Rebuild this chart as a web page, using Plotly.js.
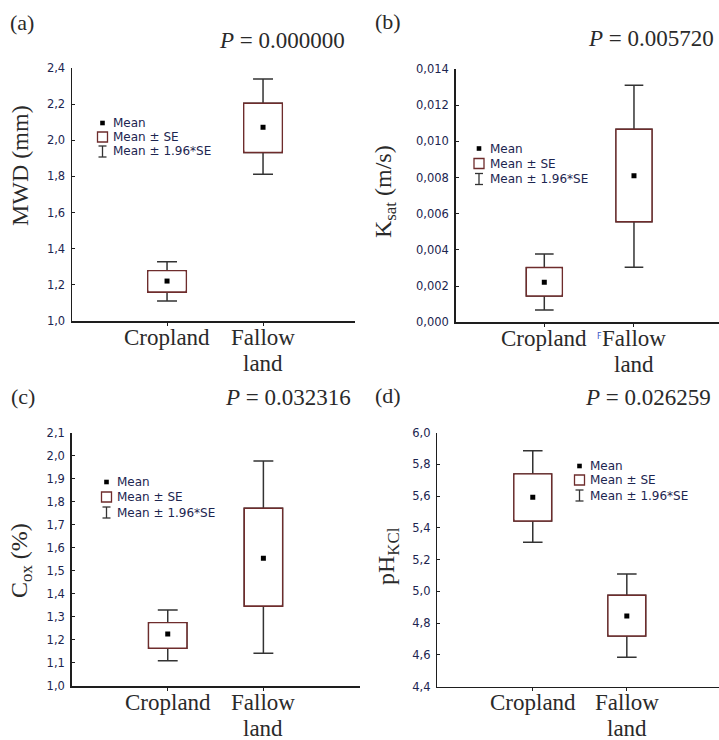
<!DOCTYPE html>
<html>
<head>
<meta charset="utf-8">
<script src="https://cdn.plot.ly/plotly-3.0.1.min.js"></script>
<style>html,body{margin:0;padding:0;background:#fff;}#chart{width:719px;height:740px;}</style>
</head>
<body>
<div id="chart"></div>
<script>
// ---- data ----
const categories = ['Cropland', 'Fallow land'];
const tickText = ['Cropland', 'Fallow<br>land'];
const legendLabels = ['Mean', 'Mean ± SE', 'Mean ± 1.96*SE'];

const mwdMean   = [1.221, 2.072];
const mwdSeLow  = [1.160, 1.933];
const mwdSeHigh = [1.278, 2.205];
const mwdCiLow  = [1.111, 1.812];
const mwdCiHigh = [1.328, 2.339];

const ksatMean   = [0.00221, 0.00810];
const ksatSeLow  = [0.00145, 0.00556];
const ksatSeHigh = [0.00302, 0.01067];
const ksatCiLow  = [0.00068, 0.00304];
const ksatCiHigh = [0.00378, 0.01310];

const coxMean   = [1.226, 1.555];
const coxSeLow  = [1.164, 1.347];
const coxSeHigh = [1.275, 1.772];
const coxCiLow  = [1.110, 1.142];
const coxCiHigh = [1.330, 1.977];

const phMean   = [5.593, 4.845];
const phSeLow  = [5.444, 4.719];
const phSeHigh = [5.740, 4.976];
const phCiLow  = [5.310, 4.585];
const phCiHigh = [5.887, 5.110];

const pValues = ['0.000000', '0.005720', '0.032316', '0.026259'];
const panelLetters = ['(a)', '(b)', '(c)', '(d)'];
const yTitles = ['MWD (mm)', 'K<sub>sat</sub> (m/s)', 'C<sub>ox</sub> (%)', 'pH<sub>KCl</sub>'];

// ---- helpers ----
const W = 719, H = 740;
const px = x => x / W;
const py = y => 1 - y / H;
const SERIF = 'Liberation Serif, Times New Roman, serif';
const SANS = 'DejaVu Sans, Verdana, sans-serif';
const BROWN = '#6e2c2c';
const WHISK = '#333333';
const AXC = '#1e1e1e';
const TICKC = '#1c2550';
const TXT = '#2a2a2a';
const BOXW = 0.4;          // box width in category units
const BROWN_W = 1.6;       // box outline width (px)
const COVER_OFF = 1.4;     // px inset of the white cover that hides Plotly's median line

const panels = [
  {mean: mwdMean, seL: mwdSeLow, seH: mwdSeHigh, ciL: mwdCiLow, ciH: mwdCiHigh,
   xd: [72, 355], yd: [68, 321], yr: [1.0, 2.4], dt: 0.2, fmt: '.1f', xr: [-0.99, 1.958],
   title: [20, 166], p: [347, 40], letter: [22, 22], leg: {x: 102.5, y: [123, 137, 151.5]}},
  {mean: ksatMean, seL: ksatSeLow, seH: ksatSeHigh, ciL: ksatCiLow, ciH: ksatCiHigh,
   xd: [455.7, 719], yd: [69, 322.3], yr: [0, 0.014], dt: 0.002, fmt: '.3f', xr: [-0.988, 1.948],
   title: [385, 192], p: [716, 38], letter: [388, 21], leg: {x: 479, y: [148.5, 163.5, 179]}},
  {mean: coxMean, seL: coxSeLow, seH: coxSeHigh, ciL: coxCiLow, ciH: coxCiHigh,
   xd: [71.7, 360], yd: [432.7, 686], yr: [1.0, 2.1], dt: 0.1, fmt: '.1f', xr: [-1.004, 2.01],
   title: [21, 561], p: [353, 398], letter: [23, 397], leg: {x: 106.5, y: [482, 497, 512.5]}},
  {mean: phMean, seL: phSeLow, seH: phSeHigh, ciL: phCiLow, ciH: phCiHigh,
   xd: [437.3, 719], yd: [432.7, 686.7], yr: [4.4, 6.0], dt: 0.2, fmt: '.1f', xr: [-1.015, 1.98],
   title: [388, 556], p: [713, 398], letter: [388, 395], leg: {x: 579.5, y: [466, 480, 495.5]}}
];

const data = [];
const layout = {
  width: W, height: H,
  margin: {l: 0, r: 0, t: 0, b: 0},
  paper_bgcolor: '#ffffff', plot_bgcolor: '#ffffff',
  showlegend: false,
  boxmode: 'overlay',
  separators: ',.',
  annotations: [],
  shapes: []
};

panels.forEach((p, i) => {
  const n = i === 0 ? '' : String(i + 1);
  const xa = 'x' + n, ya = 'y' + n;
  const yPerPx = (p.yr[1] - p.yr[0]) / (p.yd[1] - p.yd[0]);
  const xPerPx = (p.xr[1] - p.xr[0]) / (p.xd[1] - p.xd[0]);
  const dy = COVER_OFF * yPerPx;

  // whiskers (mean ± 1.96*SE)
  data.push({
    type: 'box', x: categories, xaxis: xa, yaxis: ya,
    q1: p.seL, median: p.seL, q3: p.seH, lowerfence: p.ciL, upperfence: p.ciH,
    width: BOXW, whiskerwidth: 0.52, boxpoints: false,
    line: {color: WHISK, width: 1.5}, fillcolor: '#ffffff', hoverinfo: 'skip'
  });
  // boxes (mean ± SE)
  data.push({
    type: 'box', x: categories, xaxis: xa, yaxis: ya,
    q1: p.seL, median: p.seL, q3: p.seH, lowerfence: p.seL, upperfence: p.seH,
    width: BOXW, whiskerwidth: 0, boxpoints: false,
    line: {color: BROWN, width: BROWN_W}, fillcolor: '#ffffff', hoverinfo: 'skip'
  });
  // white inset cover that hides the (unwanted) median stroke inside the box
  const cL = p.seL.map(v => v + dy), cH = p.seH.map(v => v - dy);
  data.push({
    type: 'box', x: categories, xaxis: xa, yaxis: ya,
    q1: cL, median: cL, q3: cH, lowerfence: cL, upperfence: cH,
    width: BOXW - 2 * COVER_OFF * xPerPx, whiskerwidth: 0, boxpoints: false,
    line: {color: '#ffffff', width: 1.3}, fillcolor: '#ffffff', hoverinfo: 'skip'
  });
  // means
  data.push({
    type: 'scatter', mode: 'markers', x: categories, y: p.mean, xaxis: xa, yaxis: ya,
    marker: {symbol: 'square', size: 5, color: '#000000'}, hoverinfo: 'skip'
  });

  layout['xaxis' + n] = {
    domain: [px(p.xd[0]), px(p.xd[1])], anchor: ya, type: 'category',
    range: p.xr, showline: true, linecolor: AXC, linewidth: 1.5,
    ticks: 'outside', ticklen: 3, tickcolor: AXC, tickwidth: 1,
    tickvals: categories, showticklabels: false,
    showgrid: false, zeroline: false, fixedrange: true
  };
  layout['yaxis' + n] = {
    domain: [py(p.yd[1]), py(p.yd[0])], anchor: xa,
    range: p.yr, tick0: p.yr[0], dtick: p.dt, tickformat: p.fmt,
    showline: true, linecolor: AXC, linewidth: 1.5,
    ticks: 'inside', ticklen: 3, tickcolor: AXC, tickwidth: 1,
    tickfont: {family: SANS, size: 11.5, color: TICKC}, ticklabelstandoff: 3,
    showgrid: false, zeroline: false, fixedrange: true
  };

  // category labels (multi-line, placed under each category through the x scale)
  categories.forEach((c, k) => {
    tickText[k].split('<br>').forEach((line, li) => {
      layout.annotations.push({
        xref: xa, yref: 'paper', x: c, y: py(p.yd[1] + 16 + li * 26),
        xanchor: 'center', yanchor: 'middle', showarrow: false,
        text: line, font: {family: SERIF, size: 23, color: TXT}
      });
    });
  });

  // titles & labels
  layout.annotations.push({
    xref: 'paper', yref: 'paper', x: px(p.title[0]), y: py(p.title[1]),
    xanchor: 'center', yanchor: 'middle', textangle: -90, showarrow: false,
    text: yTitles[i], font: {family: SERIF, size: 24, color: TXT}
  });
  layout.annotations.push({
    xref: 'paper', yref: 'paper', x: px(p.p[0]), y: py(p.p[1]),
    xanchor: 'right', yanchor: 'middle', showarrow: false,
    text: '<i>P</i> = ' + pValues[i], font: {family: SERIF, size: 23, color: TXT}
  });
  layout.annotations.push({
    xref: 'paper', yref: 'paper', x: px(p.letter[0]), y: py(p.letter[1]),
    xanchor: 'center', yanchor: 'middle', showarrow: false,
    text: panelLetters[i], font: {family: SERIF, size: 22, color: TXT}
  });

  // in-plot legend
  const lx = p.leg.x, ly = p.leg.y;
  layout.shapes.push({type: 'rect', xref: 'paper', yref: 'paper',
    x0: px(lx - 2.3), x1: px(lx + 2.3), y0: py(ly[0] + 2.3), y1: py(ly[0] - 2.3),
    fillcolor: '#000000', line: {width: 0}});
  layout.shapes.push({type: 'rect', xref: 'paper', yref: 'paper',
    x0: px(lx - 5), x1: px(lx + 5), y0: py(ly[1] + 5), y1: py(ly[1] - 5),
    fillcolor: '#ffffff', line: {color: BROWN, width: 1.3}});
  layout.shapes.push({type: 'line', xref: 'paper', yref: 'paper',
    x0: px(lx), x1: px(lx), y0: py(ly[2] + 5.5), y1: py(ly[2] - 5.5),
    line: {color: WHISK, width: 1.3}});
  layout.shapes.push({type: 'line', xref: 'paper', yref: 'paper',
    x0: px(lx - 4), x1: px(lx + 4), y0: py(ly[2] + 5.5), y1: py(ly[2] + 5.5),
    line: {color: WHISK, width: 1.3}});
  layout.shapes.push({type: 'line', xref: 'paper', yref: 'paper',
    x0: px(lx - 4), x1: px(lx + 4), y0: py(ly[2] - 5.5), y1: py(ly[2] - 5.5),
    line: {color: WHISK, width: 1.3}});
  legendLabels.forEach((t, k) => {
    layout.annotations.push({
      xref: 'paper', yref: 'paper', x: px(lx + 8.5), y: py(ly[k]),
      xanchor: 'left', yanchor: 'middle', showarrow: false,
      text: t, font: {family: SANS, size: 12, color: TICKC}
    });
  });
});

// small stray glyph next to "Cropland" in panel (b)
layout.annotations.push({
  xref: 'paper', yref: 'paper', x: px(599.5), y: py(336),
  xanchor: 'center', yanchor: 'middle', showarrow: false,
  text: 'F', font: {family: SANS, size: 8, color: '#3a55c8'}
});

Plotly.newPlot('chart', data, layout, {staticPlot: true, displayModeBar: false});
</script>
</body>
</html>
